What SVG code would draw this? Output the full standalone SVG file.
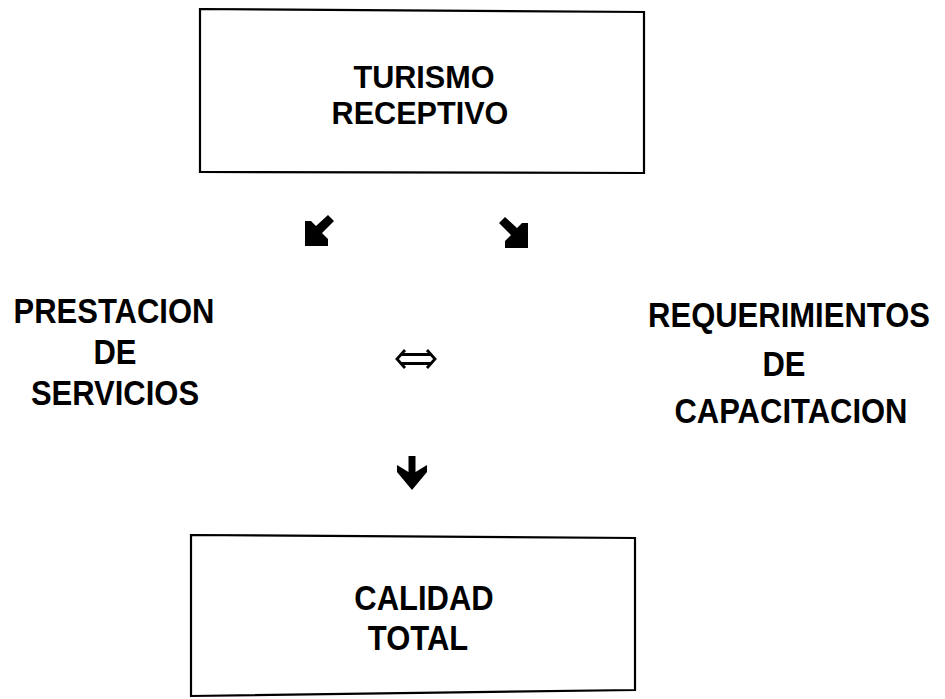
<svg xmlns="http://www.w3.org/2000/svg" width="945" height="699" viewBox="0 0 945 699">
<style>
.box{fill:none;stroke:#000;stroke-width:2.2}
.t{font-family:"Liberation Sans",Arial,sans-serif;font-weight:bold;font-size:31px;fill:#000;text-anchor:middle}
.s{font-size:30px}
.arr{fill:#000;stroke:none}
.dbl{fill:none;stroke:#000;stroke-width:2.8;stroke-linejoin:miter}
</style>
<rect width="945" height="699" fill="#fff"/>
<g id="turismo">
<path class="box" d="M200,9 L644,12 L644,173 L200,172 Z"/>
<text class="t s" transform="translate(424,88) scale(1.02,1.05)">TURISMO</text>
<text class="t s" transform="translate(420,124) scale(1.02,1.05)">RECEPTIVO</text>
</g>
<g id="prestacion">
<text class="t" transform="translate(114,323) scale(1,1.12)">PRESTACION</text>
<text class="t" transform="translate(115,364) scale(1,1.12)">DE</text>
<text class="t" transform="translate(115,405) scale(1,1.12)">SERVICIOS</text>
</g>
<g id="requerimientos">
<text class="t" transform="translate(789,327) scale(1,1.12)">REQUERIMIENTOS</text>
<text class="t" transform="translate(784,376) scale(1,1.12)">DE</text>
<text class="t" transform="translate(791,423) scale(1,1.12)">CAPACITACION</text>
</g>
<g id="calidad">
<path class="box" d="M191,535 L635,538 L635,690 L191,696 Z"/>
<text class="t" transform="translate(424,610) scale(1,1.12)">CALIDAD</text>
<text class="t" transform="translate(418,650) scale(1,1.12)">TOTAL</text>
</g>
<g id="connectors">
<path class="arr" d="M305,246 L305,221 L311,221 L316,226 L328,215 L334,221 L322,233 L328,239 L328,246 Z"/>
<path class="arr" d="M528,248 L528,223 L522,223 L517,228 L505,217 L499,223 L511,235 L505,241 L505,248 Z"/>
<path class="dbl" d="M405,350 L397,359 L405,368 M427,350 L435,359 L427,368 M401,354.5 L431,354.5 M401,363.5 L431,363.5"/>
<path class="arr" d="M408.5,456 L415.5,456 L415.5,472 L427,465 L427,472 L412,490 L397,472 L397,465 L408.5,472 Z"/>
</g>
</svg>
